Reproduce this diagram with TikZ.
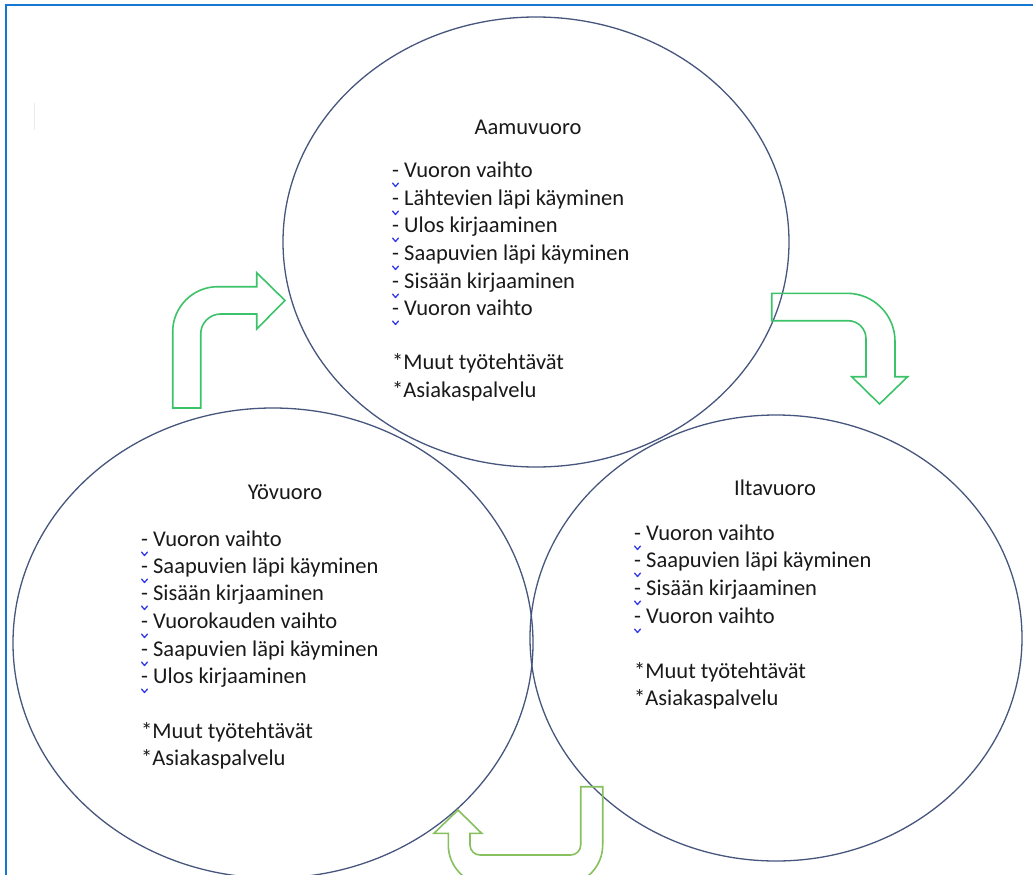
\documentclass[tikz,border=0pt]{standalone}
\usepackage{fontspec}
\setmainfont{Carlito}
\definecolor{ringc}{RGB}{70,86,125}
\definecolor{arrA}{RGB}{60,195,105}
\definecolor{arrB}{RGB}{135,192,95}
\definecolor{framec}{RGB}{20,120,210}
\definecolor{txtc}{RGB}{25,25,25}
\definecolor{spellc}{RGB}{50,60,235}
\tikzset{
  ring/.style={draw=ringc, line width=1.3pt},
  bentarrow/.style={draw=arrA, line width=1.6pt, line join=miter},
  uarrow/.style={draw=arrB, line width=1.6pt, line join=miter},
  ttl/.style={anchor=base, inner sep=0pt, font=\fontsize{22.5}{27}\selectfont, text=txtc},
  itm/.style={anchor=base west, inner sep=0pt, font=\fontsize{22.5}{27}\selectfont, text=txtc},
  spell/.style={draw=spellc, line width=1.3pt, line cap=round, line join=round},
}
\newcommand{\chev}[1]{\draw[spell] ([shift={(0.5,6)}]#1.base west) -- ([shift={(3.5,9.5)}]#1.base west) -- ([shift={(6.5,6)}]#1.base west);}
\begin{document}
\begin{tikzpicture}[x=1pt,y=-1pt]
\useasboundingbox (0,0) rectangle (1033,875);
\clip (0,0) rectangle (1033,875);
\fill[white] (0,0) rectangle (1033,875);
% frame
\draw[framec, line width=2.5pt] (6,875) -- (6,5) -- (1033,5);
\draw[black!8, line width=1pt] (34,103) -- (34,130);
% rings
\draw[ring] (536,242) ellipse [x radius=253pt, y radius=225pt];
\draw[ring] (273,643) ellipse [x radius=260pt, y radius=235pt];
\draw[ring] (776,638) ellipse [x radius=246pt, y radius=223pt];
% arrows
\draw[bentarrow] (172.7,408) -- (172.7,331.7) .. controls (172.7,306.9) and (192.9,286.7) .. (217.7,286.7) -- (256.7,286.7) -- (256.7,272.7) -- (285,300.5) -- (256.7,329) -- (256.7,314) -- (220.7,314) .. controls (209.7,314) and (200.7,323) .. (200.7,334) -- (200.7,408) -- cycle;
\draw[bentarrow] (771.7,293.3) -- (847,293.3) .. controls (873.5,293.3) and (895,314.8) .. (895,341.3) -- (895,376.7) -- (907.7,376.7) -- (879.5,404) -- (851.7,376.7) -- (866,376.7) -- (866,338.7) .. controls (866,328.7) and (858,320.7) .. (848,320.7) -- (771.7,320.7) -- cycle;
\draw[uarrow] (602.7,786.7) -- (602.7,845) .. controls (602.7,867) and (584.8,885) .. (562.7,885) -- (488.3,885) .. controls (466.2,885) and (448.3,867) .. (448.3,845) -- (448.3,833.3) -- (434,833.3) -- (458,810) -- (481.7,833.3) -- (470,833.3) -- (470,845) .. controls (470,850.5) and (474.5,855) .. (480,855) -- (570.7,855) .. controls (576.2,855) and (580.7,850.5) .. (580.7,845) -- (580.7,786.7) -- cycle;
% Aamuvuoro
\node[ttl] (at) at (528,134) {Aamuvuoro};
\node[itm] (a1) at (392,177) {- Vuoron vaihto};
\node[itm] (a2) at (392,205) {- Lähtevien läpi käyminen};
\node[itm] (a3) at (392,232) {- Ulos kirjaaminen};
\node[itm] (a4) at (392,260) {- Saapuvien läpi käyminen};
\node[itm] (a5) at (392,288) {- Sisään kirjaaminen};
\node[itm] (a6) at (392,315) {- Vuoron vaihto};
\node[itm] (a7) at (392,369) {*Muut työtehtävät};
\node[itm] (a8) at (392,397) {*Asiakaspalvelu};
\foreach \n in {a1,a2,a3,a4,a5,a6} {\chev{\n}}
% Yövuoro
\node[ttl] (yt) at (285,499) {Yövuoro};
\node[itm] (y1) at (141,546) {- Vuoron vaihto};
\node[itm] (y2) at (141,573) {- Saapuvien läpi käyminen};
\node[itm] (y3) at (141,600) {- Sisään kirjaaminen};
\node[itm] (y4) at (141,628) {- Vuorokauden vaihto};
\node[itm] (y5) at (141,656) {- Saapuvien läpi käyminen};
\node[itm] (y6) at (141,683) {- Ulos kirjaaminen};
\node[itm] (y7) at (141,738) {*Muut työtehtävät};
\node[itm] (y8) at (141,765) {*Asiakaspalvelu};
\foreach \n in {y1,y2,y3,y4,y5,y6} {\chev{\n}}
% Iltavuoro
\node[ttl] (it) at (775,495) {Iltavuoro};
\node[itm] (i1) at (634,540) {- Vuoron vaihto};
\node[itm] (i2) at (634,567) {- Saapuvien läpi käyminen};
\node[itm] (i3) at (634,595) {- Sisään kirjaaminen};
\node[itm] (i4) at (634,623) {- Vuoron vaihto};
\node[itm] (i5) at (634,678) {*Muut työtehtävät};
\node[itm] (i6) at (634,705) {*Asiakaspalvelu};
\foreach \n in {i1,i2,i3,i4} {\chev{\n}}
\end{tikzpicture}
\end{document}
